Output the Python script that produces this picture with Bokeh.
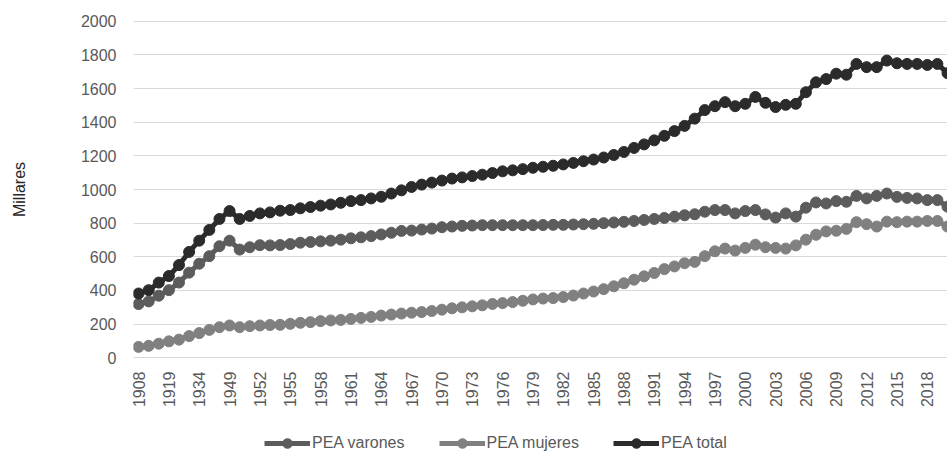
import math
from bokeh.plotting import figure
from bokeh.layouts import column
from bokeh.models import Range1d, FixedTicker, Legend, LegendItem, ColumnDataSource
from bokeh.embed import file_html
from bokeh.resources import INLINE

years = [1908, 1912, 1915, 1919, 1924, 1929, 1934, 1939, 1944] + list(range(1949, 2021))

varones = [319, 335, 369, 402, 447, 506, 559, 604, 663, 696, 643, 657, 669, 668,
           670, 676, 684, 688, 692, 696, 702, 710, 716, 723, 733, 743, 754, 756,
           762, 768, 776, 780, 784, 786, 788, 788, 788, 788, 788, 788, 789, 790,
           790, 792, 794, 796, 800, 804, 808, 813, 819, 825, 831, 839, 847,
           853, 868, 878, 878, 858, 872, 878, 852, 833, 858, 839, 892, 923, 917,
           931, 927, 962, 947, 962, 976, 956, 950, 947, 937, 937, 898]

mujeres = [65, 71, 84, 98, 108, 129, 147, 166, 182, 192, 182, 188, 192, 195,
           196, 202, 208, 212, 218, 222, 225, 231, 237, 243, 251, 257, 263, 268,
           272, 278, 286, 294, 300, 306, 312, 320, 325, 331, 339, 347, 352, 355,
           361, 370, 382, 394, 408, 425, 443, 464, 484, 504, 527, 543, 562,
           570, 604, 633, 649, 637, 653, 672, 657, 653, 649, 668, 702, 731, 751,
           755, 766, 806, 794, 780, 809, 806, 809, 809, 813, 813, 780]

total = [382, 402, 447, 486, 551, 629, 696, 760, 825, 872, 825, 843, 858, 864,
         874, 878, 888, 896, 904, 911, 921, 931, 937, 947, 957, 976, 995, 1015,
         1029, 1041, 1053, 1065, 1072, 1080, 1088, 1098, 1108, 1114, 1121, 1129, 1135, 1141,
         1149, 1158, 1168, 1178, 1190, 1205, 1223, 1247, 1268, 1292, 1319, 1347, 1378,
         1421, 1472, 1495, 1519, 1495, 1509, 1550, 1515, 1490, 1503, 1509, 1578, 1637, 1656,
         1688, 1682, 1746, 1727, 1727, 1766, 1750, 1746, 1746, 1740, 1746, 1691]

series_names = ["PEA varones", "PEA mujeres", "PEA total"]
series_colors = ["#5c5c5c", "#808080", "#2b2b2b"]
y_ticks = [0, 200, 400, 600, 800, 1000, 1200, 1400, 1600, 1800, 2000]

idx = list(range(len(years)))
FONT = "Liberation Sans"

p = figure(width=947, height=410, output_backend="svg", toolbar_location=None,
           x_range=Range1d(-0.5, 80.0), y_range=Range1d(-10, 2010),
           min_border_left=133, min_border_right=0, min_border_top=19, min_border_bottom=43)
p.outline_line_color = None
p.background_fill_color = "white"
p.border_fill_color = "white"

for name, col, vals in zip(series_names, series_colors, [varones, mujeres, total]):
    src = ColumnDataSource(dict(x=idx, y=vals))
    p.line("x", "y", source=src, line_color=col, line_width=5)
    p.scatter("x", "y", source=src, size=11, fill_color=col, line_color=col)

p.xgrid.grid_line_color = None
p.ygrid.grid_line_color = "#d9d9d9"
p.ygrid.grid_line_width = 1
p.yaxis.ticker = FixedTicker(ticks=y_ticks)
p.xaxis.ticker = FixedTicker(ticks=list(range(0, len(years), 3)))
p.xaxis.major_label_overrides = {i: str(years[i]) for i in range(0, len(years), 3)}
p.xaxis.major_label_orientation = math.pi / 2

for ax in (p.xaxis, p.yaxis):
    ax.axis_line_color = None
    ax.major_tick_line_color = None
    ax.minor_tick_line_color = None
    ax.major_label_text_font = FONT
    ax.major_label_text_font_size = "16px"
    ax.major_label_text_color = "#595959"

p.xaxis.major_label_standoff = 6
p.yaxis.major_label_standoff = 11
p.yaxis.axis_label = "Millares"
p.yaxis.axis_label_text_font = FONT
p.yaxis.axis_label_text_font_size = "16px"
p.yaxis.axis_label_text_font_style = "normal"
p.yaxis.axis_label_text_color = "#262626"
p.yaxis.axis_label_standoff = 50

# legend strip (its frame lines up with the main plot frame)
pl = figure(width=947, height=47, output_backend="svg", toolbar_location=None,
            x_range=Range1d(0, 1), y_range=Range1d(0, 1),
            min_border_left=0, min_border_right=0, min_border_top=0, min_border_bottom=0)
pl.axis.visible = False
pl.grid.visible = False
pl.outline_line_color = None
items = []
for name, col in zip(series_names, series_colors):
    # one point kept outside the visible range, only so the legend glyphs draw
    lr = pl.line(x=[-5, -4], y=[-5, -5], line_color=col, line_width=5)
    sr = pl.scatter(x=[-5], y=[-5], size=11, fill_color=col, line_color=col)
    items.append(LegendItem(label=name, renderers=[lr, sr]))

legend = Legend(items=items, orientation="horizontal", location=(131, 2),
                glyph_width=46, glyph_height=24, label_standoff=2, spacing=34,
                label_text_font=FONT, label_text_font_size="16px",
                label_text_color="#595959", border_line_color=None,
                background_fill_alpha=0, padding=2, margin=0)
pl.add_layout(legend, "center")

layout = column(p, pl, spacing=0)
open("out.html", "w").write(file_html(layout, INLINE))
